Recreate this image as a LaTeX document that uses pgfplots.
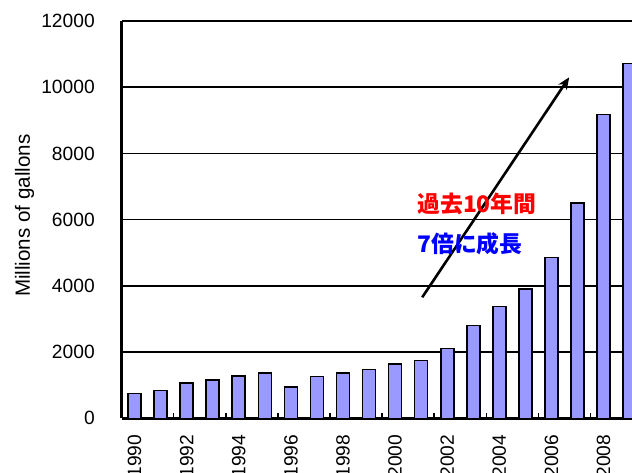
\documentclass[border=0pt]{standalone}
\usepackage{pgfplots}
\pgfplotsset{compat=1.18}
\usetikzlibrary{arrows.meta}
\usepackage{fontspec}
\setmainfont{Liberation Sans}
\newfontfamily\cjk{Noto Sans CJK JP}
\definecolor{barfill}{HTML}{9999FF}
\begin{document}
\begin{tikzpicture}
\useasboundingbox (0,0) rectangle (316pt,236pt);
\clip (0,0) rectangle (316pt,236pt);
\begin{axis}[
  at={(60.75pt,26.85pt)}, anchor=south west,
  scale only axis,
  width=260.6pt, height=198.65pt,
  xmin=-0.5, xmax=19.5,
  ymin=0, ymax=12000,
  axis x line=bottom, axis y line=left,
  axis line style={line width=1.2pt, -},
  ytick={0,2000,...,12000},
  scaled y ticks=false,
  ymajorgrids,
  grid style={line width=0.8pt, black},
  xtick={0,2,...,18},
  xticklabels={1990,1992,1994,1996,1998,2000,2002,2004,2006,2008},
  major tick length=0pt,
  extra x ticks={1.5,3.5,5.5,7.5,9.5,11.5,13.5,15.5,17.5},
  extra x tick labels={},
  extra x tick style={major tick length=2.6pt, tick align=inside, tick style={line width=0.8pt, black}, xmajorgrids=false},
  tick label style={font=\fontsize{9.6}{10}\selectfont},
  /pgf/number format/assume math mode=true,
  /pgf/number format/1000 sep={},
  yticklabel style={anchor=east, inner sep=0pt, xshift=-13.2pt},
  xticklabel style={rotate=90, anchor=east, inner sep=0pt, xshift=-1pt},
  xticklabel shift=7pt,
  ylabel={Millions of gallons},
  ylabel style={at={(axis description cs:-0.186,0.51)}, anchor=center, rotate=0, font=\fontsize{10.3}{11}\selectfont},
  ybar, bar width=6.5pt,
  clip=true,
]
\addplot[ybar, fill=barfill, draw=black, line width=0.8pt, bar shift=0pt] coordinates {
(0,752) (1,842) (2,1071) (3,1161) (4,1272) (5,1372) (6,951) (7,1263) (8,1363) (9,1474)
(10,1633) (11,1745) (12,2106) (13,2797) (14,3378) (15,3910) (16,4861) (17,6497) (18,9174) (19,10718)
};
\draw[-{Stealth[length=6pt,width=5pt]}, line width=1.3pt] (axis cs:11.04,3655) -- (axis cs:16.68,10300);
\node[anchor=west, inner sep=0pt, text=red] at (axis cs:10.84,6473) {\cjk\bfseries\fontsize{11.4}{12}\selectfont 過去10年間};
\node[anchor=west, inner sep=0pt, text=blue] at (axis cs:10.84,5264) {\cjk\bfseries\fontsize{11.4}{12}\selectfont 7倍に成長};
\end{axis}
\end{tikzpicture}
\end{document}
